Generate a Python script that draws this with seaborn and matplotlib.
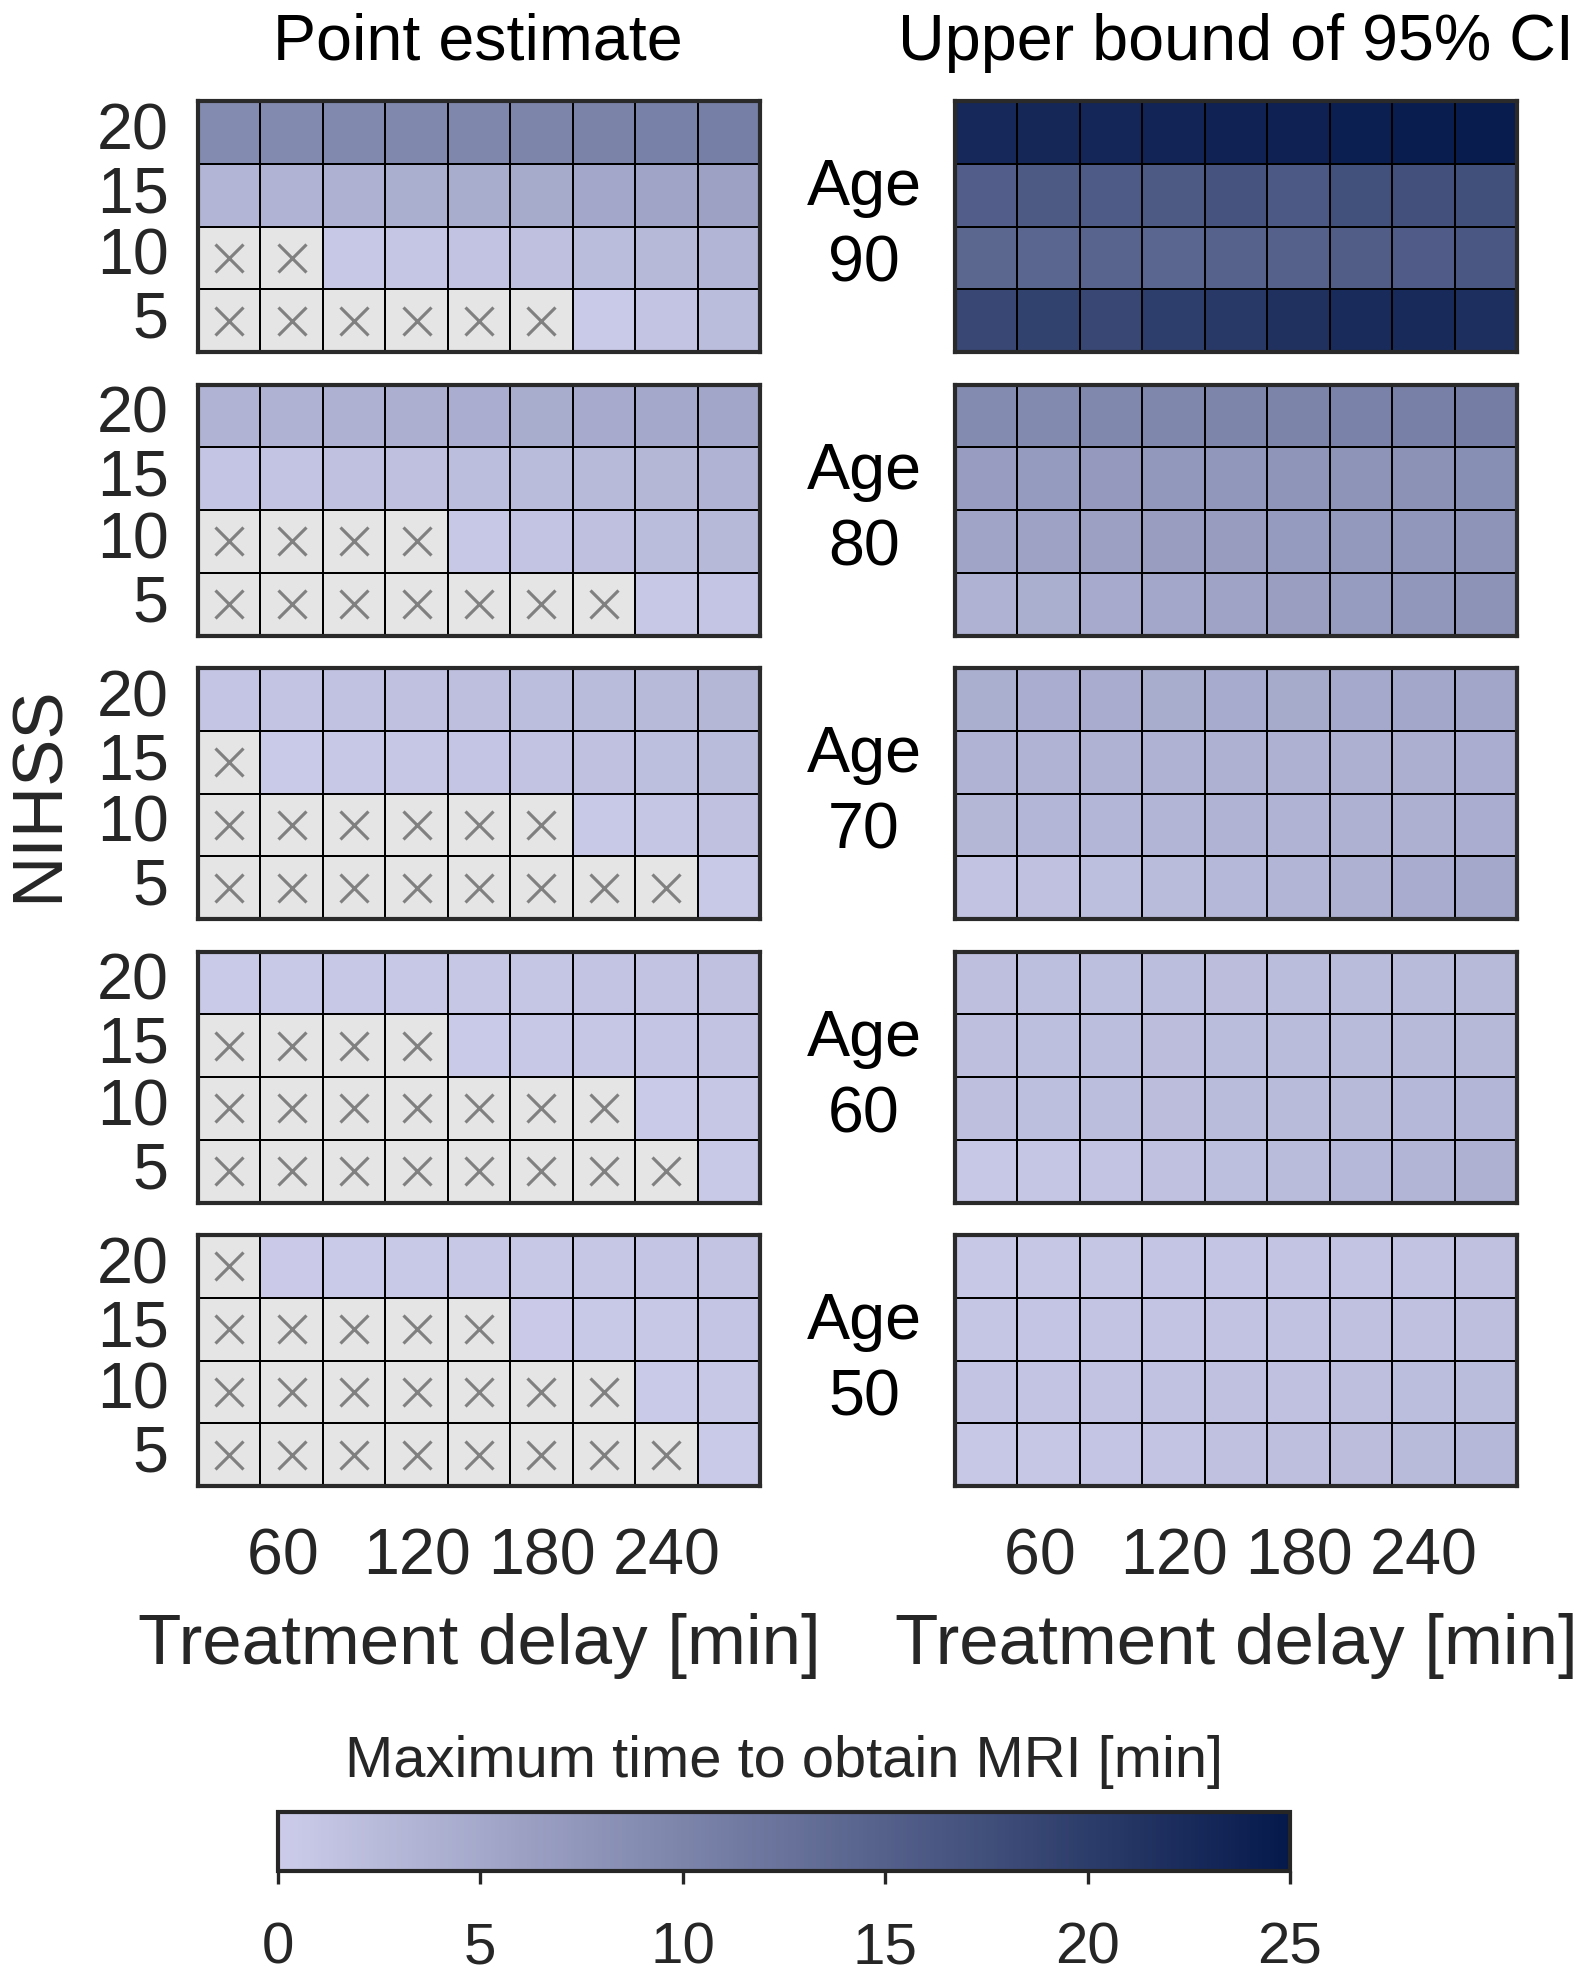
import numpy as np
import pandas as pd
import matplotlib
matplotlib.use("Agg")
import matplotlib.pyplot as plt
import seaborn as sns
from matplotlib.colors import LinearSegmentedColormap, ListedColormap

nan = np.nan

delays = [30, 60, 90, 120, 150, 180, 210, 240, 270]
xtick_values = [60, 120, 180, 240]
nihss = [20, 15, 10, 5]
ages = [90, 80, 70, 60, 50]

point_90 = [[9.0, 9.2, 9.4, 9.5, 9.7, 9.9, 10.2, 10.5, 10.8],
            [3.3, 3.6, 3.9, 4.2, 4.5, 4.8, 5.1, 5.5, 5.9],
            [nan, nan, 0.6, 0.9, 1.3, 1.7, 2.2, 2.7, 3.3],
            [nan, nan, nan, nan, nan, nan, 0.4, 1.1, 2.2]]
upper_90 = [[22.8, 23.0, 23.1, 23.4, 23.7, 23.8, 24.1, 24.4, 24.6],
            [15.3, 16.0, 15.8, 16.0, 16.8, 16.1, 17.3, 17.2, 17.4],
            [14.1, 14.3, 14.5, 14.3, 14.8, 15.0, 15.5, 15.6, 16.3],
            [18.6, 19.3, 18.6, 19.8, 20.6, 21.6, 22.4, 22.6, 21.9]]

point_80 = [[3.5, 3.7, 3.9, 4.1, 4.3, 4.5, 4.7, 5.0, 5.3],
            [1.0, 1.2, 1.5, 1.7, 2.0, 2.3, 2.6, 3.0, 3.5],
            [nan, nan, nan, nan, 0.7, 1.1, 1.7, 2.2, 2.7],
            [nan, nan, nan, nan, nan, nan, nan, 0.6, 1.0]]
upper_80 = [[9.0, 9.2, 9.5, 9.7, 9.9, 10.1, 10.3, 10.6, 11.0],
            [6.7, 6.9, 7.1, 7.3, 7.5, 7.7, 7.9, 8.2, 8.5],
            [5.5, 5.8, 6.1, 6.4, 6.6, 6.9, 7.2, 7.5, 7.9],
            [3.7, 4.2, 4.7, 5.2, 5.7, 6.3, 6.8, 7.4, 8.0]]

point_70 = [[1.0, 1.2, 1.4, 1.6, 1.8, 2.0, 2.3, 2.6, 3.0],
            [nan, 0.4, 0.6, 0.8, 1.0, 1.3, 1.6, 1.9, 2.3],
            [nan, nan, nan, nan, nan, nan, 0.5, 0.9, 1.5],
            [nan, nan, nan, nan, nan, nan, nan, nan, 0.5]]
upper_70 = [[4.2, 4.3, 4.4, 4.5, 4.6, 4.8, 4.9, 5.1, 5.3],
            [3.5, 3.6, 3.7, 3.7, 3.8, 3.9, 4.0, 4.1, 4.3],
            [3.0, 3.1, 3.2, 3.3, 3.5, 3.6, 3.8, 4.0, 4.3],
            [1.3, 1.5, 1.9, 2.3, 2.8, 3.3, 3.8, 4.4, 5.0]]

point_60 = [[0.4, 0.5, 0.6, 0.7, 0.8, 0.9, 1.1, 1.3, 1.6],
            [nan, nan, nan, nan, 0.4, 0.6, 0.8, 1.0, 1.3],
            [nan, nan, nan, nan, nan, nan, nan, 0.4, 0.8],
            [nan, nan, nan, nan, nan, nan, nan, nan, 0.5]]
upper_60 = [[1.8, 1.9, 1.9, 2.0, 2.1, 2.2, 2.3, 2.4, 2.5],
            [1.8, 1.9, 2.0, 2.1, 2.2, 2.3, 2.4, 2.5, 2.7],
            [1.8, 1.9, 2.0, 2.1, 2.3, 2.4, 2.6, 2.8, 3.1],
            [0.7, 0.9, 1.2, 1.5, 1.9, 2.3, 2.8, 3.3, 3.9]]

point_50 = [[nan, 0.3, 0.4, 0.5, 0.6, 0.7, 0.8, 1.0, 1.2],
            [nan, nan, nan, nan, nan, 0.3, 0.5, 0.7, 1.0],
            [nan, nan, nan, nan, nan, nan, nan, 0.4, 0.7],
            [nan, nan, nan, nan, nan, nan, nan, nan, 0.4]]
upper_50 = [[0.7, 0.8, 0.9, 1.0, 1.0, 1.1, 1.2, 1.3, 1.5],
            [0.9, 1.0, 1.1, 1.2, 1.3, 1.4, 1.5, 1.6, 1.8],
            [1.1, 1.2, 1.3, 1.4, 1.5, 1.6, 1.8, 2.0, 2.2],
            [0.6, 0.8, 1.0, 1.2, 1.5, 1.8, 2.1, 2.4, 2.8]]

point_panels = [point_90, point_80, point_70, point_60, point_50]
upper_panels = [upper_90, upper_80, upper_70, upper_60, upper_50]

sns.set_theme(style="ticks")
plt.rcParams['font.family'] = ['Liberation Sans', 'DejaVu Sans']
plt.rcParams['axes.edgecolor'] = '#262626'

cmap = LinearSegmentedColormap.from_list("mri", ["#ccccea", "#05194b"])
grey_cmap = ListedColormap(["#e5e5e5"])

W, H = 1575, 1975
fig = plt.figure(figsize=(W / 300, H / 300), dpi=300)

col_left = [198 / W, 955 / W]
col_w = 562 / W
row_h = 251 / H
row_tops = [101, 384.5, 668, 951.5, 1235]

tick_fs = 15.5
mappable = None
for r, age in enumerate(ages):
    bottom = 1 - (row_tops[r] + 251) / H
    for c, panels in enumerate([point_panels, upper_panels]):
        ax = fig.add_axes([col_left[c], bottom, col_w, row_h])
        df = pd.DataFrame(panels[r], index=nihss, columns=delays)
        missing = df.isna()
        sns.heatmap(missing.astype(float), mask=~missing, cmap=grey_cmap, cbar=False,
                    linewidths=0.4, linecolor='black', ax=ax)
        sns.heatmap(df, cmap=cmap, vmin=0, vmax=25, cbar=False,
                    linewidths=0.4, linecolor='black', ax=ax)
        if mappable is None:
            mappable = ax.collections[-1]
        yy, xx = np.where(missing.values)
        ax.plot(xx + 0.5, yy + 0.5, ls='none', marker='x', ms=6.8, mew=0.75,
                color='#808080')
        for s in ax.spines.values():
            s.set_visible(True)
            s.set_linewidth(1.0)
            s.set_color('#2a2a2a')
        ax.set_xlabel('')
        ax.set_ylabel('')
        ax.tick_params(length=0, labelsize=tick_fs, colors='#262626')
        if c == 0:
            ax.set_yticks(np.arange(len(nihss)) + 0.5)
            ax.set_yticklabels([str(v) for v in nihss], rotation=0)
            ax.tick_params(axis='y', pad=7)
        else:
            ax.set_yticks([])
        if r == len(ages) - 1:
            ax.set_xticks([delays.index(v) + 0.5 for v in xtick_values])
            ax.set_xticklabels([f"{v:<3d}" for v in xtick_values], rotation=0)
            ax.tick_params(axis='x', pad=10)
            ax.set_xlabel('Treatment delay [min]', fontsize=17, labelpad=6,
                          color='#262626')
        else:
            ax.set_xticks([])
    fig.text(864 / W, 1 - (row_tops[r] + 125.5) / H, f"Age\n{age}",
             ha='center', va='center', fontsize=15.5, multialignment='center',
             linespacing=1.35, color='black')

fig.text(478 / W, 1 - 43 / H, "Point estimate", ha='center', va='center',
         fontsize=15.5, color='black')
fig.text(1236 / W, 1 - 43 / H, "Upper bound of 95% CI", ha='center', va='center',
         fontsize=15.5, color='black')
fig.text(40 / W, 1 - 794 / H, "NIHSS", ha='center', va='center', rotation=90,
         fontsize=17, color='#262626')

cax = fig.add_axes([278 / W, 1 - 1871 / H, 1012 / W, 59 / H])
cb = fig.colorbar(mappable, cax=cax, orientation='horizontal')
cb.set_ticks([0, 5, 10, 15, 20, 25])
cb.outline.set_linewidth(1.0)
cb.outline.set_edgecolor('#262626')
cax.tick_params(axis='x', length=3, width=0.8, pad=9, labelsize=14,
                colors='#262626')
cax.xaxis.set_label_position('top')
cax.set_xlabel('Maximum time to obtain MRI [min]', fontsize=13.9, labelpad=8.5,
               color='#262626')

fig.savefig("out.png", dpi=300)
